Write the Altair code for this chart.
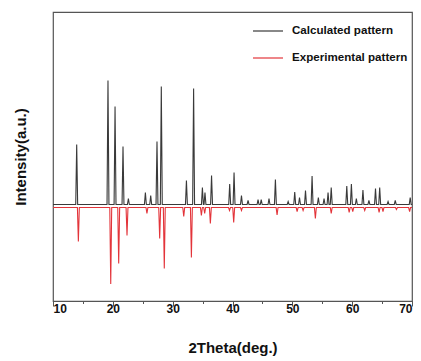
import altair as alt
import pandas as pd

# Calculated pattern: peak positions (deg 2theta) and heights (a.u.)
calc_pos = [13.96, 19.19, 20.37, 21.7, 22.6, 25.44, 26.33, 27.38, 28.1, 32.3, 33.5,
            34.97, 35.4, 36.5, 39.53, 40.26, 41.5, 42.6, 44.27, 44.8, 46.1, 47.17,
            49.3, 50.4, 51.2, 52.2, 53.3, 54.35, 55.3, 55.97, 56.5, 59.1, 59.87,
            60.7, 61.8, 62.8, 63.9, 64.6, 66.0, 67.2, 69.7]
calc_int = [60, 124, 98, 58, 6, 12, 9, 63, 118, 24, 116,
            17, 12, 29, 20.5, 32, 9, 4, 5, 5, 6, 25,
            3, 12.5, 7, 14, 28.5, 7, 6, 12, 17, 18.5, 20.5,
            6, 14.5, 4, 16, 17, 3, 4, 7]

# Experimental pattern: peak positions and depths (a.u.)
exp_pos = [14.24, 19.65, 20.98, 22.37, 25.7, 27.83, 28.6, 31.85, 33.13, 34.8, 35.35,
           36.3, 39.5, 40.2, 41.5, 47.45, 50.8, 51.8, 53.85, 56.5, 59.5, 60.1,
           62.1, 64.5, 65.15, 67.4, 69.6]
exp_int = [34, 76.5, 56, 28, 6, 31, 61, 9, 50, 8, 6,
           16, 3, 15, 3, 7.5, 4, 3, 11, 6, 5, 4,
           3, 5, 4, 2, 4]

calc_base = 96.5
exp_base = 93.5
half_w = 0.16

rows = []
def build(name, pos, ints, base, sign):
    pts = [(10.0, base)]
    for p, h in zip(pos, ints):
        pts.append((p - half_w, base))
        pts.append((p, base + sign * h))
        pts.append((p + half_w, base))
    pts.append((70.0, base))
    for i, (x, y) in enumerate(pts):
        rows.append({"x": x, "y": y, "series": name, "i": i})

build("Calculated pattern", calc_pos, calc_int, calc_base, 1)
build("Experimental pattern", exp_pos, exp_int, exp_base, -1)
df = pd.DataFrame(rows)

chart = alt.Chart(df).mark_line(strokeWidth=1.1, clip=True).encode(
    x=alt.X("x:Q", scale=alt.Scale(domain=[10, 70], nice=False, zero=False),
            axis=alt.Axis(title="2Theta(deg.)", values=list(range(10, 71, 5)),
                          labelExpr="datum.value % 10 === 0 ? datum.label : ''",
                          tickSize={"condition": {"test": "datum.value % 10 === 0", "value": 5}, "value": 2.5},
                          grid=False, domainColor="#555555", tickColor="#555555",
                          labelFont="Liberation Sans", labelFontWeight="bold", labelFontSize=12,
                          labelColor="#111111", labelPadding=-3,
                          titleFont="Liberation Sans", titleFontWeight="bold", titleFontSize=15,
                          titleColor="#111111", titlePadding=26)),
    y=alt.Y("y:Q", scale=alt.Scale(domain=[0, 289], nice=False, zero=False),
            axis=alt.Axis(title="Intensity(a.u.)", labels=False, ticks=False, grid=False,
                          domain=False,
                          titleFont="Liberation Sans", titleFontWeight="bold", titleFontSize=15,
                          titleColor="#111111", titlePadding=25)),
    color=alt.Color("series:N",
                    scale=alt.Scale(domain=["Calculated pattern", "Experimental pattern"],
                                    range=["#3a3a3a", "#e3343a"]),
                    legend=alt.Legend(title=None, orient="none", legendX=199, legendY=3,
                                      symbolType="stroke", symbolSize=900, symbolStrokeWidth=1.2,
                                      labelFont="Liberation Sans", labelFontWeight="bold",
                                      labelFontSize=11.6, labelColor="#111111", labelOffset=8,
                                      rowPadding=5)),
    order="i:Q",
).properties(
    width=359, height=289,
    padding={"left": 5, "top": 4, "right": 0, "bottom": 3},
).configure_view(stroke="#555555", strokeWidth=1.2)

chart.save("out.html", embed_options={"renderer": "svg", "actions": False})
